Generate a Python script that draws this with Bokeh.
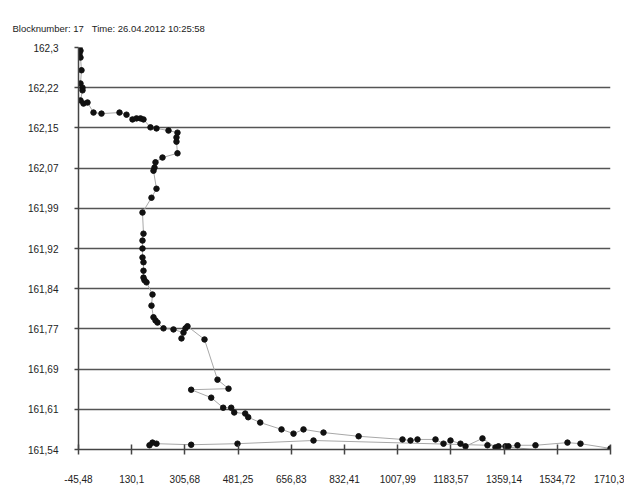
from bokeh.plotting import figure
from bokeh.models import Range1d, FixedTicker
from bokeh.embed import file_html
from bokeh.resources import INLINE

# track points (in order along the path)
xs = [-42.2, -38.9, -42.2, -38.9, -35.6, -38.9, -32.3, -32.3, -38.9, -29.0, -15.8,
      4.0, 30.4, 89.8, 112.9, 132.7, 145.9, 159.1, 169.0, 192.1, 211.9, 251.5,
      281.2, 277.9, 277.9, 281.2, 231.7, 208.6, 205.3, 202.0, 211.9, 195.4, 165.7,
      169.0, 165.7, 165.7, 165.7, 169.0, 169.0, 169.0, 172.3, 178.9, 198.7, 195.4,
      202.0, 208.6, 215.2, 235.0, 268.0, 301.0, 294.4, 307.6, 314.2, 370.4,
      413.3, 449.6, 326.4, 392.5, 432.1, 458.5, 468.4, 504.7, 514.6, 554.2,
      624.5, 664.1, 697.1, 763.1, 879.0, 1023.8, 1050.2, 1073.3, 1132.7, 1159.1,
      1182.2, 1215.2, 1231.7, 1287.8, 1330.7, 1340.6, 1363.7, 1373.6, 1403.3,
      1462.7, 1568.3, 1611.2, 1710.3,
      1574.9, 1304.3, 730.1, 479.3, 326.4, 211.9, 198.7, 188.8]
ys = [162.300, 162.294, 162.288, 162.281, 162.257, 162.232, 162.224, 162.219, 162.200,
      162.194, 162.196, 162.177, 162.175, 162.177, 162.173, 162.164, 162.166, 162.166,
      162.164, 162.149, 162.147, 162.143, 162.139, 162.130, 162.122, 162.100, 162.092,
      162.083, 162.073, 162.067, 162.033, 162.016, 161.988, 161.948, 161.935, 161.920,
      161.903, 161.894, 161.878, 161.865, 161.860, 161.856, 161.833, 161.812, 161.790,
      161.784, 161.780, 161.769, 161.767, 161.761, 161.750, 161.769, 161.773, 161.748,
      161.672, 161.655, 161.653, 161.638, 161.619, 161.619, 161.610, 161.608, 161.601,
      161.591, 161.578, 161.570, 161.578, 161.572, 161.565, 161.559, 161.557, 161.559,
      161.559, 161.551, 161.557, 161.551, 161.546, 161.561, 161.544, 161.546, 161.546,
      161.546, 161.548, 161.548, 161.553, 161.551, 161.542,
      161.534, 161.548, 161.557, 161.551, 161.549, 161.551, 161.553, 161.548]

x_ticks = [-45.48, 130.098, 305.676, 481.254, 656.832, 832.41, 1007.988, 1183.566,
           1359.144, 1534.722, 1710.3]
x_tick_labels = ["-45,48", "130,1", "305,68", "481,25", "656,83", "832,41", "1007,99",
                 "1183,57", "1359,14", "1534,72", "1710,3"]
y_ticks = [161.54, 161.616, 161.692, 161.768, 161.844, 161.92, 161.996, 162.072,
           162.148, 162.224, 162.3]
y_tick_labels = ["161,54", "161,61", "161,69", "161,77", "161,84", "161,92", "161,99",
                 "162,07", "162,15", "162,22", "162,3"]

FONT = "Liberation Sans"

p = figure(width=624, height=490, output_backend="svg", toolbar_location=None,
           x_range=Range1d(-45.48, 1710.3), y_range=Range1d(161.54, 162.3),
           min_border_left=78, min_border_right=14, min_border_bottom=41,
           min_border_top=47)
p.title.text = "Blocknumber: 17\u00a0\u00a0\u00a0Time: 26.04.2012 10:25:58"
p.title.text_font = FONT
p.title.text_font_size = "9.5px"
p.title.text_font_style = "normal"
p.title.text_color = "#222222"
p.title.align = "left"
p.title.offset = -66
p.title.standoff = 28

p.outline_line_color = None
p.background_fill_color = "white"
p.border_fill_color = "white"

p.xgrid.visible = False
p.ygrid.ticker = FixedTicker(ticks=y_ticks)
p.ygrid.grid_line_color = "#555555"
p.ygrid.grid_line_width = 1.5

p.xaxis.ticker = FixedTicker(ticks=x_ticks)
p.xaxis.major_label_overrides = {t: l for t, l in zip(x_ticks, x_tick_labels)}
p.yaxis.ticker = FixedTicker(ticks=y_ticks)
p.yaxis.major_label_overrides = {t: l for t, l in zip(y_ticks, y_tick_labels)}

for ax in (p.xaxis, p.yaxis):
    ax.axis_line_color = "#444444"
    ax.axis_line_width = 1.5
    ax.major_tick_line_color = "#444444"
    ax.major_tick_line_width = 1.5
    ax.minor_tick_line_color = None
    ax.major_label_text_font = FONT
    ax.major_label_text_font_size = "10px"
    ax.major_label_text_color = "#222222"

p.xaxis.major_tick_in = 5
p.xaxis.major_tick_out = 5
p.xaxis.major_label_standoff = 20
p.yaxis.major_tick_in = 0
p.yaxis.major_tick_out = 4
p.yaxis.major_label_standoff = 16

p.line(xs, ys, line_color="#a8a8a8", line_width=1.0)
p.scatter(xs, ys, size=5.5, fill_color="#111111", line_color="#111111")

open("out.html", "w").write(file_html(p, INLINE))
